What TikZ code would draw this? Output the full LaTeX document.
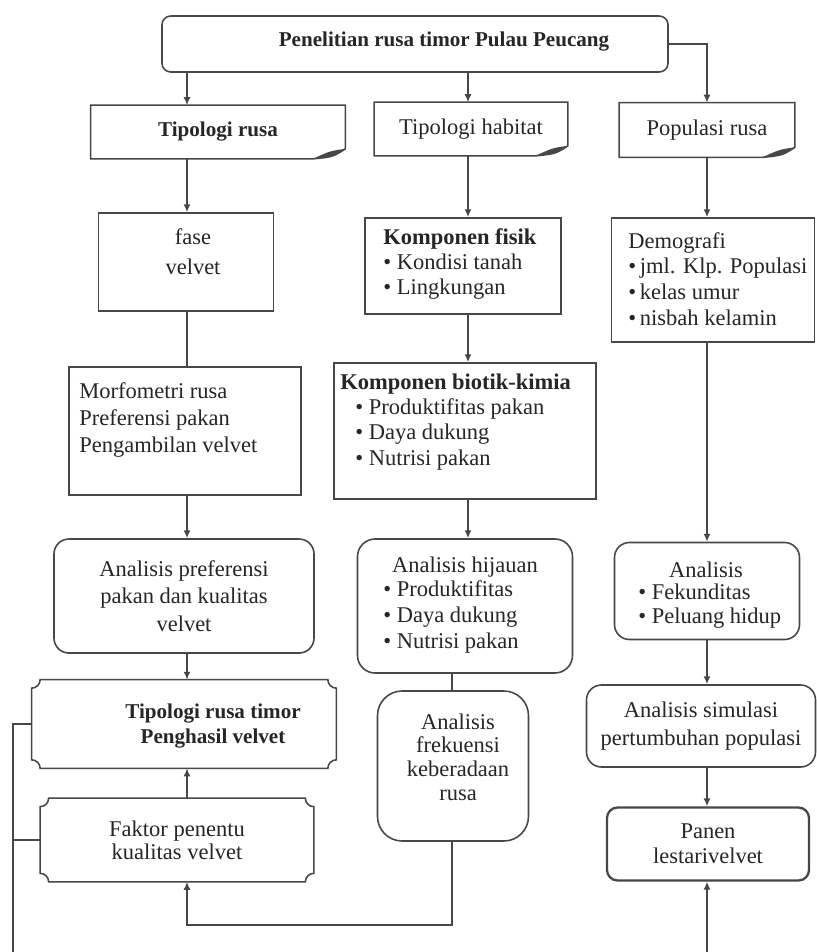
\documentclass[tikz,border=0pt]{standalone}
\usepackage{fontspec}
\setmainfont{Liberation Serif}
\usetikzlibrary{arrows.meta,positioning,calc}

\definecolor{lc}{gray}{0.28}
\definecolor{tc}{gray}{0.15}

\tikzset{
  bline/.style={draw=lc, line width=0.9pt},
  box/.style={bline, rectangle, inner sep=0pt},
  shell/.style={rectangle, inner sep=0pt},
  rbox/.style={bline, rectangle, rounded corners=#1, inner sep=0pt},
  sz/.style 2 args={minimum width=#1*0.2mm, minimum height=#2*0.2mm},
  txt/.style={text=tc, inner sep=0pt, align=center, font=\fontsize{12.8}{#1}\selectfont},
  txt/.default=15.5pt,
  hd/.style={text=tc, inner sep=0pt, align=center, font=\fontsize{12}{#1}\selectfont\bfseries},
  hd/.default=15pt,
  conn/.style={bline},
  arr/.style={bline, -{Latex[length=4.5pt,width=4pt]}},
}

% note box with curled corner
\newcommand\docshape[1]{%
  \draw[bline] (#1.south west) -- (#1.north west) -- (#1.north east)
    -- ($(#1.south east)+(0,2mm)$)
    .. controls ($(#1.south east)+(-2.5mm,0.4mm)$) .. ($(#1.south east)+(-6.5mm,0)$) -- cycle;
  \fill[lc] ($(#1.south east)+(0,2mm)$)
    .. controls ($(#1.south east)+(-2.5mm,0.4mm)$) .. ($(#1.south east)+(-6.5mm,0)$)
    .. controls ($(#1.south east)+(-3mm,1.6mm)$) .. ($(#1.south east)+(0,2mm)$);
}
% box with hollow corners
\newcommand\plaque[2]{%
  \draw[bline] ($(#1.north west)+(#2,0)$) -- ($(#1.north east)+(-#2,0)$)
    arc[start angle=180,end angle=270,radius=#2]
    -- ($(#1.south east)+(0,#2)$)
    arc[start angle=90,end angle=180,radius=#2]
    -- ($(#1.south west)+(#2,0)$)
    arc[start angle=0,end angle=90,radius=#2]
    -- ($(#1.north west)+(0,-#2)$)
    arc[start angle=-90,end angle=0,radius=#2] -- cycle;
}

\begin{document}
\begin{tikzpicture}[x=0.2mm,y=-0.2mm]
\fill[white] (0,0) rectangle (816,952);
\useasboundingbox (0,0) rectangle (816,952);
% columns
\coordinate (c1) at (187,0);
\coordinate (c2) at (468,0);
\coordinate (c3) at (707,0);
\coordinate (c4) at (452,0);

% top
\node[rbox=5pt, sz={506}{56}] (top) at (415,44) {};
\node[hd] (title) at (444,42) {Penelitian rusa timor Pulau Peucang};

% row 1
\node[shell, hd, sz={254}{53}] (tr) at (218,132) {Tipologi rusa};
\node[shell, txt, sz={193}{53}] (th) at (471,129) {Tipologi habitat};
\node[shell, txt, sz={175}{54}] (pr) at (707,130) {Populasi rusa};
\docshape{tr}
\docshape{th}
\docshape{pr}

% row 2
\node[box, sz={175}{98}] (fv) at (186,262) {};
\node[txt=17pt] (fv-t) at (193,252) {fase\\velvet};
\node[box, sz={196}{96}] (kf) at (463,266) {};
\node[txt=14.5pt, align=left, anchor=west] (kf-t) at (383,264)
  {\textbf{Komponen fisik}\\\textbullet~Kondisi tanah\\\textbullet~Lingkungan};
\node[box, sz={203}{124}] (dm) at (713,280) {};
\node[txt=14.6pt, align=left, anchor=west] (dm-t) at (628,279)
  {Demografi\\\textbullet\,jml. Klp. Populasi\\\textbullet\,kelas umur\\\textbullet\,nisbah kelamin};

% row 3
\node[box, sz={232}{128}] (mf) at (185,431) {};
\node[txt=15.3pt, align=left, anchor=west] (mf-t) at (79,420)
  {Morfometri rusa\\Preferensi pakan\\Pengambilan velvet};
\node[box, sz={262}{136}] (kb) at (465,431) {};
\node[txt=14.3pt, align=left, anchor=west] (kb-t) at (340,422)
  {\textbf{Komponen biotik-kimia}\\\hspace*{3mm}\textbullet~Produktifitas pakan\\
   \hspace*{3mm}\textbullet~Daya dukung\\\hspace*{3mm}\textbullet~Nutrisi pakan};

% row 4
\node[rbox=8.5pt, txt, sz={260}{114}] (ap) at (184,596)
  {Analisis preferensi\\pakan dan kualitas\\velvet};
\node[rbox=10pt, sz={215}{134}] (ah) at (465,606) {};
\node[txt] (ah-h) at (465,567) {Analisis hijauan};
\node[txt=14.8pt, align=left, anchor=west] (ah-l) at (383,617)
  {\textbullet~Produktifitas\\\textbullet~Daya dukung\\\textbullet~Nutrisi pakan};
\node[rbox=8.5pt, sz={185}{97}] (aa) at (707,591) {};
\node[txt] (aa-h) at (706,570) {Analisis};
\node[txt=13.6pt, align=left, anchor=west] (aa-l) at (638,606)
  {\textbullet~Fekunditas\\\textbullet~Peluang hidup};

% row 5
\node[shell, sz={304}{88}] (tt) at (184,724) {};
\plaque{tt}{1.7mm}
\node[hd=14.7pt] (tt-t) at (213,726) {Tipologi rusa timor\\Penghasil velvet};
\node[shell, txt=13.2pt, sz={273}{83}] (fp) at (177,840)
  {Faktor penentu\\kualitas velvet};
\plaque{fp}{1.7mm}
\node[rbox=14pt, sz={151}{150}] (fk) at (453,766) {};
\node[txt=13.4pt] (fk-t) at (458,757) {Analisis\\frekuensi\\keberadaan\\rusa};
\node[rbox=8.5pt, txt=16pt, sz={229}{82}] (as) at (701,726)
  {Analisis simulasi\\pertumbuhan populasi};
\node[rbox=6pt, txt=14.2pt, sz={202}{73}, line width=1.3pt] (pn) at (708,844)
  {Panen\\lestarivelvet};

% connectors
\draw[arr] (top.south -| c1) -- (tr.north -| c1);
\draw[arr] (top.south -| c2) -- (th.north -| c2);
\draw[arr] (top.east) -| (pr.north -| c3);
\draw[arr] (tr.south -| c1) -- (fv.north -| c1);
\draw[arr] (th.south -| c2) -- (kf.north -| c2);
\draw[arr] (pr.south -| c3) -- (dm.north -| c3);
\draw[conn] (fv.south -| c1) -- (mf.north -| c1);
\draw[arr] (kf.south -| c2) -- (kb.north -| c2);
\draw[arr] (dm.south -| c3) -- (aa.north -| c3);
\draw[arr] (mf.south -| c1) -- (ap.north -| c1);
\draw[arr] (kb.south -| c2) -- (ah.north -| c2);
\draw[arr] (ap.south -| c1) -- (tt.north -| c1);
\draw[conn] (ah.south -| c4) -- (fk.north -| c4);
\draw[arr] (aa.south -| c3) -- (as.north -| c3);
\draw[arr] (fp.north -| c1) -- (tt.south -| c1);
\draw[arr] (as.south -| c3) -- (pn.north -| c3);
% feedback lines
\coordinate (fb) at (452,925);
\coordinate (bl) at (13,952);
\coordinate (br) at (707,952);
\draw[arr] (fk.south -| fb) -- (fb) -| (fp.south -| c1);
\draw[arr] (br) -- (pn.south -| br);
\draw[conn] (tt.west) -| (bl);
\draw[conn] (fp.west) -- (fp.west -| bl);
\end{tikzpicture}
\end{document}
